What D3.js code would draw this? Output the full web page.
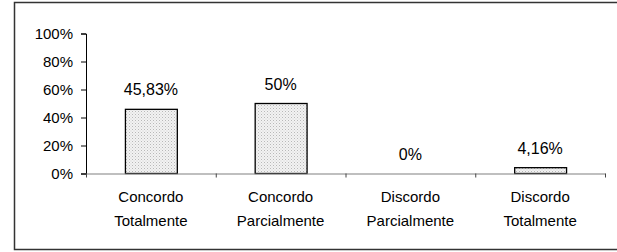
<!DOCTYPE html>
<html>
<head>
<meta charset="utf-8">
<script src="https://cdn.jsdelivr.net/npm/d3@7"></script>
<style>
  html, body { margin: 0; padding: 0; background: #fff; }
  svg text { font-family: "Liberation Sans", Arial, sans-serif; fill: #000; }
</style>
</head>
<body>
<div id="chart"></div>
<script>
const categories = [['Concordo', 'Totalmente'], ['Concordo', 'Parcialmente'], ['Discordo', 'Parcialmente'], ['Discordo', 'Totalmente']];
const values = [45.83, 50, 0, 4.16];
const valueLabels = ['45,83%', '50%', '0%', '4,16%'];
const yTicks = [0, 20, 40, 60, 80, 100];

const width = 617, height = 252;
const plot = { left: 86, right: 605, top: 33.5, bottom: 173.5 };

const svg = d3.select('#chart').append('svg')
  .attr('width', width)
  .attr('height', height);

// dotted fill of the bars
const pat = svg.append('defs').append('pattern')
  .attr('id', 'dots')
  .attr('width', 3).attr('height', 3)
  .attr('patternUnits', 'userSpaceOnUse');
pat.append('rect').attr('width', 3).attr('height', 3).attr('fill', '#f2f2f2');
pat.append('rect').attr('width', 1).attr('height', 1).attr('fill', '#b8b8b8');
pat.append('rect').attr('x', 1.5).attr('y', 1.5).attr('width', 1).attr('height', 1).attr('fill', '#cfcfcf');

// outer frame
svg.append('rect')
  .attr('x', 14.5).attr('y', 2.5)
  .attr('width', 620).attr('height', 247)
  .attr('fill', 'none')
  .attr('stroke', '#333')
  .attr('stroke-width', 1.5);

const x = d3.scaleBand()
  .domain(d3.range(values.length))
  .range([plot.left, plot.right])
  .paddingInner(0.6)
  .paddingOuter(0.3);

const y = d3.scaleLinear().domain([0, 100]).range([plot.bottom, plot.top]);

// y axis
const yAxis = svg.append('g')
  .attr('transform', `translate(${plot.left},0)`)
  .call(d3.axisLeft(y).tickValues(yTicks).tickSize(5).tickPadding(8).tickFormat(d => d + '%'));
yAxis.attr('font-family', null).attr('font-size', null);
yAxis.select('.domain').attr('stroke', '#000');
yAxis.selectAll('.tick line').attr('stroke', '#000');
yAxis.selectAll('.tick text').attr('font-size', 15);

// bars
svg.selectAll('rect.bar')
  .data(values)
  .enter().append('rect')
  .attr('class', 'bar')
  .attr('x', (d, i) => x(i) + 0.5)
  .attr('y', d => y(d))
  .attr('width', x.bandwidth())
  .attr('height', d => y(0) - y(d))
  .attr('fill', 'url(#dots)')
  .attr('stroke', '#000')
  .attr('stroke-width', 1.3)
  .style('display', d => d > 0 ? null : 'none');

// x axis with category boundary ticks
const xb = d3.scaleLinear().domain([0, values.length]).range([plot.left, plot.right]);
const xAxis = svg.append('g')
  .attr('transform', `translate(0,${plot.bottom})`)
  .call(d3.axisBottom(xb).ticks(values.length).tickSize(4).tickSizeOuter(0).tickFormat(''));
xAxis.select('.domain').attr('stroke', '#808080').attr('stroke-width', 1.2);
xAxis.selectAll('.tick line').attr('stroke', '#444');

// value labels
svg.selectAll('text.val')
  .data(values)
  .enter().append('text')
  .attr('class', 'val')
  .attr('x', (d, i) => x(i) + x.bandwidth() / 2)
  .attr('y', d => y(d) - 14)
  .attr('text-anchor', 'middle')
  .attr('font-size', 16)
  .text((d, i) => valueLabels[i]);

// category labels
const cat = svg.selectAll('text.cat')
  .data(categories)
  .enter().append('text')
  .attr('class', 'cat')
  .attr('text-anchor', 'middle')
  .attr('font-size', 15);
cat.append('tspan').attr('x', (d, i) => x(i) + x.bandwidth() / 2).attr('y', 202).text(d => d[0]);
cat.append('tspan').attr('x', (d, i) => x(i) + x.bandwidth() / 2).attr('y', 225.5).text(d => d[1]);
</script>
</body>
</html>
